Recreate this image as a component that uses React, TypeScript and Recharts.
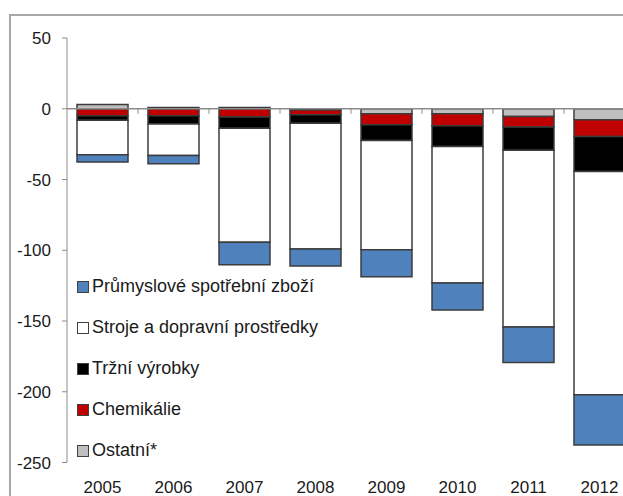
import React from "react";
import * as R from "recharts";
import { Bar, BarChart, ReferenceLine, XAxis, YAxis } from "recharts";

const YEARS = ["2005", "2006", "2007", "2008", "2009", "2010", "2011", "2012"];
const OSTATNI = [3.0, 0.8, 0.8, -0.8, -3.5, -3.5, -5.4, -7.8];
const CHEMIKALIE = [-4.9, -4.9, -5.9, -3.5, -7.8, -8.5, -7.5, -11.8];
const TRZNI = [-3.3, -5.9, -7.8, -5.9, -11.1, -14.6, -16.5, -24.7];
const STROJE = [-24.3, -22.2, -80.6, -88.9, -77.3, -96.6, -124.9, -157.9];
const PRUMYSLOVE = [-5.2, -5.9, -16.0, -12.0, -19.1, -19.1, -25.0, -35.4];
const Y_TICKS = [50, 0, -50, -100, -150, -200, -250];

const SERIES = [
  { key: "ostatni", name: "Ostatní*", color: "#bfbfbf" },
  { key: "chemikalie", name: "Chemikálie", color: "#c00000" },
  { key: "trzni", name: "Tržní výrobky", color: "#000000" },
  { key: "stroje", name: "Stroje a dopravní prostředky", color: "#ffffff" },
  { key: "prumyslove", name: "Průmyslové spotřební zboží", color: "#4f81bd" },
];

const data = YEARS.map((year, i) => ({
  year,
  ostatni: OSTATNI[i],
  chemikalie: CHEMIKALIE[i],
  trzni: TRZNI[i],
  stroje: STROJE[i],
  prumyslove: PRUMYSLOVE[i],
}));

const FONT = '"Liberation Sans", Arial, sans-serif';
const AXIS_GRAY = "#8c8c8c";

// small tick marks hanging under the zero line, at category boundaries
function ZeroTicks() {
  const hook = (R as any).usePlotArea || (R as any).useOffset;
  const plot = hook ? hook() : null;
  if (!plot || plot.width == null) return null;
  const zeroY = plot.y + (plot.height * 50) / 300;
  const step = plot.width / YEARS.length;
  return (
    <g>
      {YEARS.map((y, i) => (
        <line
          key={y}
          x1={plot.x + step * (i + 1)}
          x2={plot.x + step * (i + 1)}
          y1={zeroY}
          y2={zeroY + 5}
          stroke={AXIS_GRAY}
          strokeWidth={1}
        />
      ))}
    </g>
  );
}

export default function App() {
  return (
    <div
      style={{
        position: "fixed",
        left: 0,
        top: 0,
        width: 623,
        height: 496,
        overflow: "hidden",
        background: "#fff",
      }}
    >
      <div
        style={{
          position: "absolute",
          left: 9,
          top: 14,
          width: 700,
          height: 600,
          border: "2px solid #a6a6a6",
        }}
      />
      <div style={{ position: "absolute", left: 0, top: 0 }}>
        <BarChart
          width={660}
          height={540}
          data={data}
          stackOffset="sign"
          margin={{ top: 38, right: 25, bottom: 47.5, left: 0 }}
        >
          <XAxis
            dataKey="year"
            axisLine={false}
            tickLine={false}
            tickSize={0}
            tickMargin={18}
            height={30}
            interval={0}
            tick={{ fontSize: 17, fontFamily: FONT, fill: "#1a1a1a" }}
          />
          <YAxis
            width={67}
            domain={[-250, 50]}
            ticks={Y_TICKS}
            interval={0}
            allowDataOverflow
            stroke={AXIS_GRAY}
            tickSize={5}
            tickMargin={11}
            tick={{ fontSize: 17, fontFamily: FONT, fill: "#1a1a1a" }}
          />
          <ReferenceLine y={0} stroke={AXIS_GRAY} strokeWidth={1.5} />
          {SERIES.map((s) => (
            <Bar
              key={s.key}
              dataKey={s.key}
              name={s.name}
              stackId="a"
              fill={s.color}
              stroke="#3c3c3c"
              strokeWidth={1.5}
              barSize={51}
              isAnimationActive={false}
            />
          ))}
          <ZeroTicks />
        </BarChart>
      </div>
      <div style={{ position: "absolute", left: 77, top: 266, fontFamily: FONT, fontSize: 18, color: "#1a1a1a" }}>
        {[...SERIES].reverse().map((s) => (
          <div key={s.key} style={{ height: 41, display: "flex", alignItems: "center" }}>
            <span
              style={{
                display: "inline-block",
                width: 10,
                height: 10,
                background: s.color,
                border: "1px solid #404040",
                marginRight: 3,
              }}
            />
            <span>{s.name}</span>
          </div>
        ))}
      </div>
    </div>
  );
}
